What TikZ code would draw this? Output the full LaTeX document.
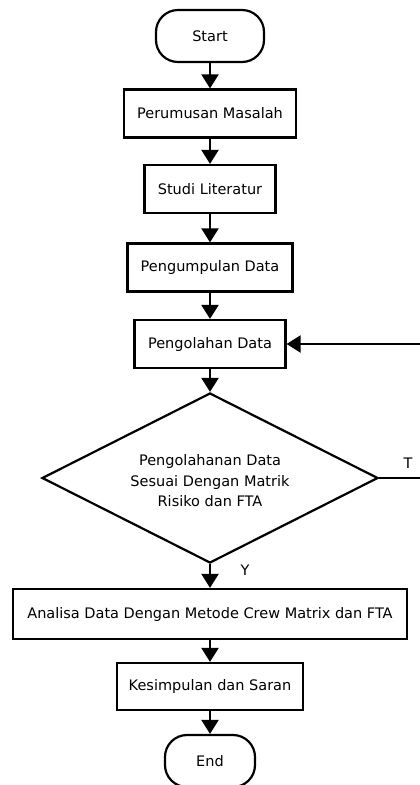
\documentclass[tikz,border=0pt]{standalone}
\usepackage{fontspec}
\setmainfont{DejaVu Sans}
\usetikzlibrary{shapes.geometric,arrows.meta}
\begin{document}
\begin{tikzpicture}[x=1pt,y=-1pt,
  every node/.style={font=\fontsize{14.5}{20.5}\selectfont, inner sep=0pt},
  box/.style={draw, line width=2.2pt, minimum height=48pt},
  term/.style={draw, line width=2.2pt, rounded corners=22pt, minimum height=52pt},
  dec/.style={draw, diamond, aspect=1.98, line width=2.2pt, minimum width=336pt, minimum height=170pt},
  conn/.style={line width=2.2pt, -{Triangle[length=14pt,width=17pt]}},
  lbl/.style={font=\fontsize{14.5}{17}\selectfont}
]
\useasboundingbox (0,0) rectangle (420,785);
\clip (0,0) rectangle (420,785);
\fill[white] (0,0) rectangle (420,785);

\node[term, minimum width=108pt] (start) at (210,36) {Start};
\node[box, minimum width=172pt] (rumus) at (210,113.5) {Perumusan Masalah};
\node[box, minimum width=131pt] (studi) at (210,189) {Studi Literatur};
\node[box, minimum width=165pt] (kumpul) at (210,267.5) {Pengumpulan Data};
\node[box, minimum width=151pt] (olah) at (210,344) {Pengolahan Data};
\node[dec] (cek) at (210,478) {};
\node[align=center] (cektext) at (210,481) {Pengolahanan Data\\Sesuai Dengan Matrik\\Risiko dan FTA};
\node[box, minimum width=394pt, minimum height=50pt] (analisa) at (210,614) {Analisa Data Dengan Metode Crew Matrix dan FTA};
\node[box, minimum width=186pt, minimum height=47pt] (simpul) at (210,686.5) {Kesimpulan dan Saran};
\node[term, minimum width=90pt] (end) at (210,761) {End};

\coordinate (r1) at (423,478);
\coordinate (r2) at (423,344);

\draw[conn] (start) -- (rumus);
\draw[conn] (rumus) -- (studi);
\draw[conn] (studi) -- (kumpul);
\draw[conn] (kumpul) -- (olah);
\draw[conn] (olah) -- (cek.north);
\draw[conn] (cek.south) -- (analisa);
\draw[conn] (analisa) -- (simpul);
\draw[conn] (simpul) -- (end);
\draw[conn] (cek.east) -- (r1) -- (r2) -- (olah.east);

\node[lbl] (tlab) at (408,463) {T};
\node[lbl] (ylab) at (245,570) {Y};
\end{tikzpicture}
\end{document}
